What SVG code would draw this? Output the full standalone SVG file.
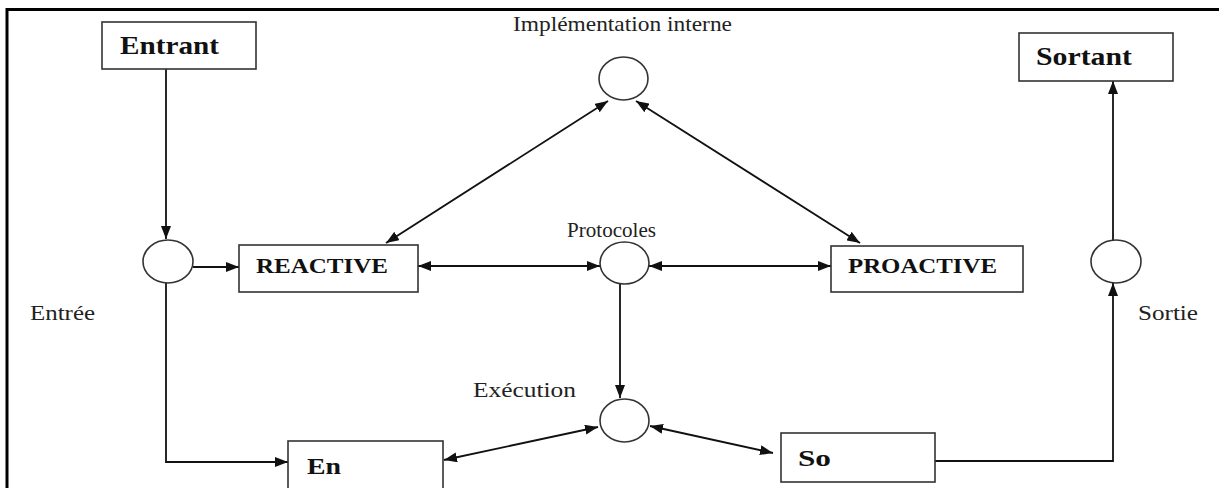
<svg xmlns="http://www.w3.org/2000/svg" width="1219" height="488" viewBox="0 0 1219 488">
  <style>
    .box { fill: #fff; stroke: #333; stroke-width: 1.6; }
    .node { fill: #fff; stroke: #333; stroke-width: 1.6; }
    .title { font-family: "Liberation Serif", "Times New Roman", serif; font-weight: bold; fill: #111; }
    .label { font-family: "Liberation Serif", "Times New Roman", serif; fill: #222; font-size: 21px; }
    .conn { fill: none; stroke: #111; stroke-width: 1.8; }
    .frame { fill: none; stroke: #000; stroke-width: 3; }
  </style>
  <defs>
    <marker id="arrow" markerUnits="userSpaceOnUse" markerWidth="13" markerHeight="10" refX="13" refY="5" orient="auto-start-reverse">
      <path d="M0,0 L13,5 L0,10 z" fill="#111"/>
    </marker>
  </defs>

  <rect width="1219" height="488" fill="#fff"/>

  <!-- page frame (top and left edges) -->
  <path class="frame" d="M7,488 L7,9.5 L1219,9.5"/>

  <!-- connectors -->
  <g id="connectors">
    <line class="conn" x1="166" y1="69" x2="166" y2="239" marker-end="url(#arrow)"/>
    <line class="conn" x1="193" y1="267" x2="239" y2="267" marker-end="url(#arrow)"/>
    <line class="conn" x1="418" y1="266" x2="600" y2="266" marker-start="url(#arrow)" marker-end="url(#arrow)"/>
    <line class="conn" x1="649" y1="266" x2="831" y2="266" marker-start="url(#arrow)" marker-end="url(#arrow)"/>
    <line class="conn" x1="386" y1="243" x2="608" y2="101" marker-start="url(#arrow)" marker-end="url(#arrow)"/>
    <line class="conn" x1="636" y1="101" x2="860" y2="243" marker-start="url(#arrow)" marker-end="url(#arrow)"/>
    <line class="conn" x1="620" y1="284" x2="620" y2="398" marker-end="url(#arrow)"/>
    <path class="conn" d="M166,283 L166,462 L288,462" marker-end="url(#arrow)"/>
    <line class="conn" x1="598" y1="427" x2="444" y2="460" marker-start="url(#arrow)" marker-end="url(#arrow)"/>
    <line class="conn" x1="650" y1="426" x2="773" y2="453" marker-start="url(#arrow)" marker-end="url(#arrow)"/>
    <path class="conn" d="M935,461 L1113,461 L1113,283" marker-end="url(#arrow)"/>
    <line class="conn" x1="1113" y1="240" x2="1113" y2="81" marker-end="url(#arrow)"/>
  </g>

  <!-- boxes -->
  <g id="entrant">
    <rect class="box" x="102" y="22" width="154" height="47"/>
    <text class="title" x="120" y="54" font-size="25" textLength="99" lengthAdjust="spacingAndGlyphs">Entrant</text>
  </g>
  <g id="sortant">
    <rect class="box" x="1019" y="33" width="154" height="48"/>
    <text class="title" x="1036" y="65" font-size="25" textLength="96" lengthAdjust="spacingAndGlyphs">Sortant</text>
  </g>
  <g id="reactive">
    <rect class="box" x="239" y="245" width="179" height="47"/>
    <text class="title" x="256" y="273" font-size="22" textLength="132" lengthAdjust="spacingAndGlyphs">REACTIVE</text>
  </g>
  <g id="proactive">
    <rect class="box" x="831" y="246" width="192" height="46"/>
    <text class="title" x="848" y="273" font-size="22" textLength="149" lengthAdjust="spacingAndGlyphs">PROACTIVE</text>
  </g>
  <g id="en">
    <rect class="box" x="288" y="441" width="155" height="60"/>
    <text class="title" x="307" y="474" font-size="24" textLength="34" lengthAdjust="spacingAndGlyphs">En</text>
  </g>
  <g id="so">
    <rect class="box" x="781" y="433" width="154" height="49"/>
    <text class="title" x="798" y="466" font-size="23" textLength="33" lengthAdjust="spacingAndGlyphs">So</text>
  </g>

  <!-- circles with their labels -->
  <g id="implementation">
    <ellipse class="node" cx="623.5" cy="78.5" rx="24.5" ry="21.5"/>
    <text class="label" x="513" y="31" textLength="219" lengthAdjust="spacingAndGlyphs">Implémentation interne</text>
  </g>
  <g id="entree">
    <ellipse class="node" cx="168" cy="261.5" rx="25" ry="21.5"/>
    <text class="label" x="30" y="320" textLength="65" lengthAdjust="spacingAndGlyphs">Entrée</text>
  </g>
  <g id="protocoles">
    <ellipse class="node" cx="624.5" cy="263" rx="24.5" ry="21"/>
    <text class="label" x="567" y="237" font-size="20" textLength="89" lengthAdjust="spacingAndGlyphs">Protocoles</text>
  </g>
  <g id="execution">
    <ellipse class="node" cx="624.5" cy="420.5" rx="24.5" ry="21.5"/>
    <text class="label" x="473" y="397" textLength="103" lengthAdjust="spacingAndGlyphs">Exécution</text>
  </g>
  <g id="sortie">
    <ellipse class="node" cx="1116" cy="261.5" rx="25" ry="21.5"/>
    <text class="label" x="1138" y="320" textLength="60" lengthAdjust="spacingAndGlyphs">Sortie</text>
  </g>
</svg>
